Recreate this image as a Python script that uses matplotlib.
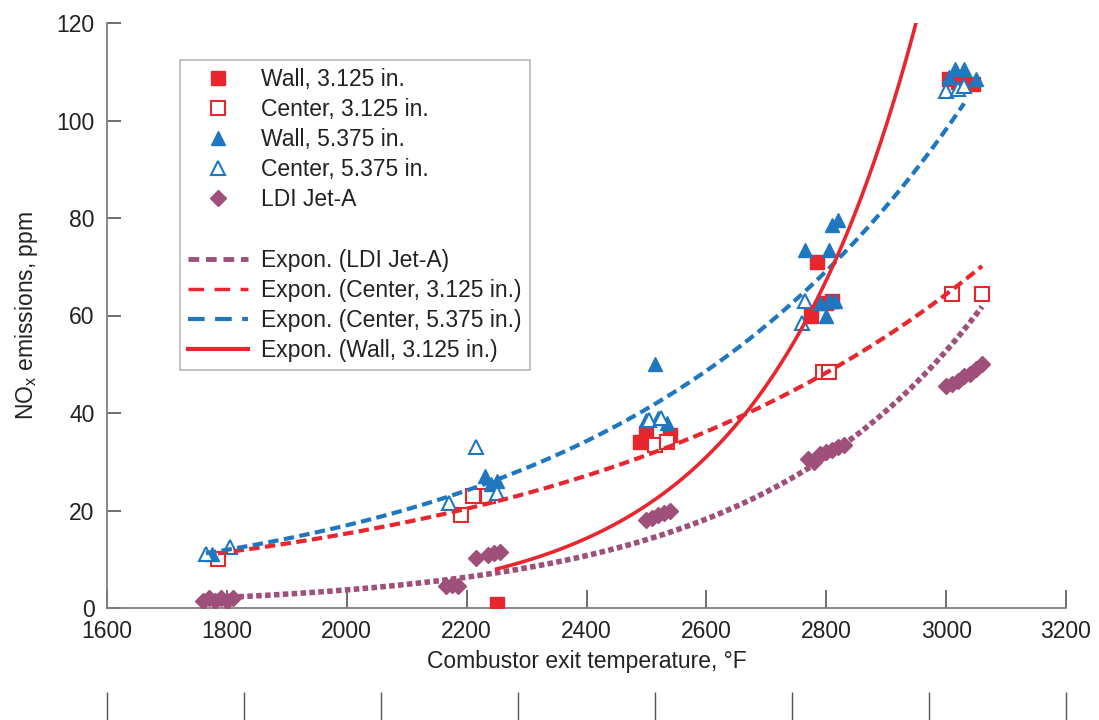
import numpy as np
import matplotlib
matplotlib.use("Agg")
import matplotlib.pyplot as plt
from matplotlib.lines import Line2D

plt.rcParams['font.family'] = ['Liberation Sans', 'DejaVu Sans']
plt.rcParams['mathtext.fontset'] = 'custom'
plt.rcParams['mathtext.rm'] = 'Liberation Sans'
plt.rcParams['mathtext.it'] = 'Liberation Sans'

# data (temperature in deg F, NOx in ppm)
wall_3125_t = [2250, 2490, 2500, 2540, 2785, 2775, 2810, 2800, 3005, 3020, 3045]
wall_3125_v = [0.8, 34, 36, 35.5, 71, 60, 63, 62.5, 108.5, 108, 107.5]

center_3125_t = [1785, 2190, 2210, 2235, 2515, 2535, 2795, 2805, 3010, 3060]
center_3125_v = [10, 19, 23, 23, 33.5, 34, 48.5, 48.5, 64.5, 64.5]

wall_5375_t = [1775, 2230, 2240, 2250, 2515, 2500, 2520, 2535, 2765, 2805,
               2810, 2820, 2790, 2805, 2815, 2800, 3005, 3015, 3030, 3050]
wall_5375_v = [11, 27, 25.5, 26, 50, 38.5, 39, 38, 73.5, 73.5,
               78.5, 79.5, 62.5, 63, 63, 60, 109, 110.5, 110.5, 108.5]

center_5375_t = [1765, 1805, 2170, 2215, 2250, 2505, 2525, 2765, 2760, 3000, 3020, 3030]
center_5375_v = [11, 12.5, 21.5, 33, 23.5, 38.5, 39, 63, 58.5, 106, 106.5, 107]

ldi_t = [1760, 1770, 1780, 1790, 1800, 1810,
         2165, 2175, 2185,
         2215, 2235, 2245, 2255,
         2500, 2510, 2520, 2530, 2540,
         2770, 2780, 2790, 2800, 2810, 2820, 2830,
         3000, 3010, 3020, 3030, 3040, 3050, 3060]
ldi_v = [1.5, 2.0, 1.5, 2.0, 1.5, 2.0,
         4.5, 4.8, 4.5,
         10.2, 10.8, 11.2, 11.4,
         18, 18.5, 19, 19.5, 20,
         30.5, 30, 31.5, 32, 32.5, 33, 33.5,
         45.5, 46, 46.5, 47.5, 48, 49, 50]

# trend for the wall 3.125 in. series as drawn on the chart:
# v = wall_trend_v0 * exp(wall_trend_b * (T - wall_trend_t0))
wall_trend_t0 = 2250
wall_trend_v0 = 8.0
wall_trend_b = 0.00387

red = '#e8262e'
blue = '#1f77c0'
mauve = '#9e4f7a'
axis_gray = '#7f7f7f'
fs = 16.5


def expon_fit(t, v):
    # Excel style exponential trendline: least squares on ln(v)
    t = np.asarray(t, float)
    b, lna = np.polyfit(t, np.log(v), 1)
    tt = np.linspace(t.min(), t.max(), 300)
    return tt, np.exp(lna + b * tt)


fig = plt.figure(figsize=(10.99, 7.2), dpi=100)
ax = fig.add_axes([107 / 1099, 1 - 608 / 720, (1066 - 107) / 1099, (608 - 23) / 720])

ax.plot(ldi_t, ldi_v, 'D', ms=8.5, color=mauve, mec=mauve, ls='none', zorder=3)
ax.plot(wall_3125_t, wall_3125_v, 's', ms=9.5, color=red, ls='none', zorder=3)
ax.plot(center_3125_t, center_3125_v, 's', ms=9.5, mfc='white', mec=red, mew=1.5, ls='none', zorder=3)
ax.plot(wall_5375_t, wall_5375_v, '^', ms=10.5, color=blue, ls='none', zorder=3)
ax.plot(center_5375_t, center_5375_v, '^', ms=10.5, mfc='white', mec=blue, mew=1.5, ls='none', zorder=3)

tt, vv = expon_fit(ldi_t, ldi_v)
ax.plot(tt, vv, color=mauve, lw=4, ls=(0, (1, 0.6)), zorder=4)
tt, vv = expon_fit(center_3125_t, center_3125_v)
ax.plot(tt, vv, color=red, lw=3, ls=(0, (2.5, 1.3)), zorder=4)
tt, vv = expon_fit(center_5375_t, center_5375_v)
ax.plot(tt, vv, color=blue, lw=3, ls=(0, (2.5, 1.3)), zorder=4)
tt = np.linspace(min(wall_3125_t), max(wall_3125_t), 300)
ax.plot(tt, wall_trend_v0 * np.exp(wall_trend_b * (tt - wall_trend_t0)), color=red, lw=2.6, zorder=4)

ax.set_xlim(1600, 3200)
ax.set_ylim(0, 120)
ax.set_xticks(range(1600, 3201, 200))
ax.set_yticks(range(0, 121, 20))
for s in ['top', 'right']:
    ax.spines[s].set_visible(False)
for s in ['left', 'bottom']:
    ax.spines[s].set_color(axis_gray)
    ax.spines[s].set_linewidth(1.3)
ax.tick_params(axis='x', direction='in', length=13, width=1.2, color='#555555',
               labelsize=fs, pad=9, labelcolor='#222222')
ax.tick_params(axis='y', direction='in', length=10, width=1.2, color='#555555',
               labelsize=fs, pad=9, labelcolor='#222222')
ax.set_xlabel('Combustor exit temperature, °F', fontsize=fs, labelpad=5, color='#222222')
ax.set_ylabel('NO$_\\mathrm{x}$ emissions, ppm', fontsize=fs, labelpad=12, color='#222222')

blank = Line2D([], [], ls='none', marker=None)
handles = [
    Line2D([], [], ls='none', marker='s', ms=9.5, color=red),
    Line2D([], [], ls='none', marker='s', ms=9.5, mfc='white', mec=red, mew=1.5),
    Line2D([], [], ls='none', marker='^', ms=10.5, color=blue),
    Line2D([], [], ls='none', marker='^', ms=10.5, mfc='white', mec=blue, mew=1.5),
    Line2D([], [], ls='none', marker='D', ms=8.5, color=mauve),
    blank,
    Line2D([], [], color=mauve, lw=3.5, ls=(0, (2.2, 1.4))),
    Line2D([], [], color=red, lw=2.5, ls=(0, (4.5, 3))),
    Line2D([], [], color=blue, lw=3, ls=(0, (4, 2.5))),
    Line2D([], [], color=red, lw=3),
]
labels = ['Wall, 3.125 in.', 'Center, 3.125 in.', 'Wall, 5.375 in.', 'Center, 5.375 in.',
          'LDI Jet-A', ' ', 'Expon. (LDI Jet-A)', 'Expon. (Center, 3.125 in.)',
          'Expon. (Center, 5.375 in.)', 'Expon. (Wall, 3.125 in.)']
leg = ax.legend(handles, labels, loc='upper left', bbox_to_anchor=(180 / 1099, 1 - 60 / 720),
                bbox_transform=fig.transFigure, fontsize=fs, frameon=True, fancybox=False,
                edgecolor='#a6a6a6', handlelength=2.6, handletextpad=0.6, labelspacing=0.31,
                borderpad=0.35, borderaxespad=0, numpoints=1)
leg.get_frame().set_linewidth(1.2)
for txt in leg.get_texts():
    txt.set_color('#222222')

# cut-off secondary scale below the chart
ax2 = fig.add_axes([107 / 1099, 0, (1066 - 107) / 1099, 0.001])
ax2.set_xlim(0, 7)
ax2.set_xticks(range(8))
ax2.set_yticks([])
for s in ax2.spines.values():
    s.set_visible(False)
ax2.tick_params(axis='x', direction='in', length=20, width=1, color='#555555', labelbottom=False)

fig.savefig('out.png', dpi=100)
